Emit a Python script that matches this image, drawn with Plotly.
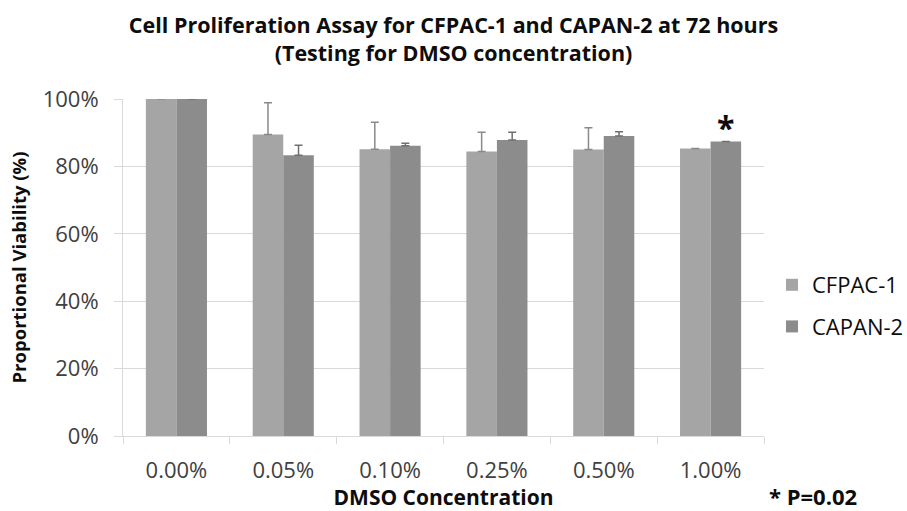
import plotly.graph_objects as go

# DMSO concentrations tested
concentrations = ["0.00%", "0.05%", "0.10%", "0.25%", "0.50%", "1.00%"]

# Proportional viability (%) at 72 hours
cfpac_viability = [100.0, 89.5, 85.1, 84.4, 85.0, 85.3]
capan_viability = [100.0, 83.3, 86.1, 87.8, 89.0, 87.4]

# Upper error bars (%); None where no bar is shown
cfpac_error = [None, 9.4, 8.0, 5.7, 6.5, None]
capan_error = [None, 3.0, 0.8, 2.3, 1.3, None]

FONT = "Open Sans"
TEXT = "#404040"
DARK = "#0d0d0d"

# plot-area edges in pixels
L, R, T, B = 123, 143, 99, 75
W, H = 907, 511
PW, PH = W - L - R, H - T - B


def lower(err):
    return [None if e is None else 0 for e in err]


fig = go.Figure()
fig.add_trace(go.Bar(
    name="CFPAC-1", x=concentrations, y=cfpac_viability,
    marker=dict(color="#a5a5a5", line=dict(width=0)),
    error_y=dict(type="data", symmetric=False, array=cfpac_error,
                 arrayminus=lower(cfpac_error),
                 color="#8a8a8a", thickness=1.5, width=4),
    legendgroup="a",
))
fig.add_trace(go.Bar(
    name="CAPAN-2", x=concentrations, y=capan_viability,
    marker=dict(color="#8c8c8c", line=dict(width=0)),
    error_y=dict(type="data", symmetric=False, array=capan_error,
                 arrayminus=lower(capan_error),
                 color="#6f6f6f", thickness=1.5, width=4),
    legendgroup="b",
))

fig.update_layout(
    width=W, height=H,
    margin=dict(l=L, r=R, t=T, b=B, autoexpand=False),
    paper_bgcolor="white", plot_bgcolor="white",
    barmode="group", bargap=0.428, bargroupgap=0,
    font=dict(family=FONT, color=TEXT, size=20),
    title=dict(
        text="Cell Proliferation Assay for CFPAC-1 and CAPAN-2 at 72 hours<br>(Testing for DMSO concentration)",
        x=0.5, xanchor="center", y=1 - 33 / H, yanchor="top",
        font=dict(family=FONT, size=21.5, color=DARK, weight="bold"),
    ),
    legend=dict(
        xref="container", yref="container",
        x=772 / W, xanchor="left", y=1 - 306 / H, yanchor="middle",
        font=dict(family=FONT, size=22, color=DARK),
        traceorder="grouped", tracegroupgap=10,
        bgcolor="rgba(0,0,0,0)",
    ),
    showlegend=True,
)

fig.update_xaxes(
    type="category", automargin=True,
    showline=True, linecolor="#d9d9d9", linewidth=1,
    ticks="outside", tickson="boundaries", ticklen=7, tickcolor="#d9d9d9",
    ticklabelstandoff=15,
    tickfont=dict(family=FONT, size=22, color=TEXT),
    title=dict(text="DMSO Concentration", standoff=5,
               font=dict(family=FONT, size=21, color=DARK, weight="bold")),
)
fig.update_yaxes(
    range=[0, 100], dtick=20, ticksuffix="%", automargin=True,
    showgrid=True, gridcolor="#d9d9d9", gridwidth=1,
    showline=True, linecolor="#d9d9d9", linewidth=1,
    ticks="outside", ticklen=8, tickcolor="#d9d9d9",
    ticklabelstandoff=11,
    zeroline=False,
    tickfont=dict(family=FONT, size=22, color=TEXT),
    title=dict(text="Proportional Viability (%)", standoff=11,
               font=dict(family=FONT, size=18.5, color=DARK, weight="bold")),
)

# significance marker above the 1.00% CAPAN-2 bar
fig.add_annotation(
    x=concentrations[5], y=capan_viability[5], xref="x", yref="y",
    xshift=15, yshift=-10, yanchor="bottom", showarrow=False,
    text="*", font=dict(family=FONT, size=32, color=DARK, weight="bold"),
)
# footnote for the marker
fig.add_annotation(
    x=(813 - L) / PW, xref="paper", y=-(496 - 436) / PH, yref="paper",
    xanchor="center", yanchor="middle", showarrow=False,
    text="* P=0.02", font=dict(family=FONT, size=22, color=DARK, weight="bold"),
)

fig.write_html("out.html")
